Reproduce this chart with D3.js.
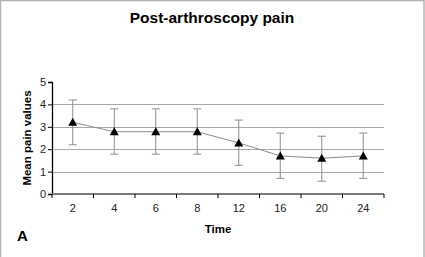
<!DOCTYPE html>
<html>
<head>
<meta charset="utf-8">
<script src="https://cdn.jsdelivr.net/npm/d3@7"></script>
<style>
  body { margin: 0; background: #fff; }
  text { font-family: Arial, "Liberation Sans", sans-serif; }
</style>
</head>
<body>
<script>
var times = ["2", "4", "6", "8", "12", "16", "20", "24"];
var meanPain = [3.2, 2.78, 2.78, 2.78, 2.28, 1.7, 1.6, 1.7];
var upperBar = [4.2, 3.8, 3.8, 3.8, 3.3, 2.72, 2.58, 2.72];
var lowerBar = [2.2, 1.78, 1.78, 1.78, 1.28, 0.7, 0.57, 0.7];
var yTicks = [0, 1, 2, 3, 4, 5];

var width = 425, height = 257;
var margin = { top: 82, right: 41, bottom: 63, left: 52 };

var data = times.map(function (t, i) {
    return { time: t, mean: meanPain[i], hi: upperBar[i], lo: lowerBar[i] };
});

var svg = d3.select("body")
    .append("svg")
    .attr("width", width)
    .attr("height", height);

// frame
svg.append("rect")
    .attr("x", 0.5).attr("y", 0.5)
    .attr("width", width - 1.5).attr("height", height + 2)
    .attr("fill", "none")
    .attr("stroke", "#b4b4b4")
    .attr("stroke-width", 1.5);

var g = svg.append("g")
    .attr("transform", "translate(" + margin.left + "," + margin.top + ")");

var w = width - margin.left - margin.right;
var h = height - margin.top - margin.bottom;

var x = d3.scaleBand()
    .domain(times)
    .range([0, w]);

var y = d3.scaleLinear()
    .domain([0, 5])
    .range([h, 0]);

// gridlines
g.selectAll(".grid")
    .data(yTicks.filter(function (d) { return d > 0 && d < 5; }))
    .enter()
    .append("line")
    .attr("x1", 0).attr("x2", w)
    .attr("y1", function (d) { return Math.round(y(d)) + 0.5; })
    .attr("y2", function (d) { return Math.round(y(d)) + 0.5; })
    .attr("stroke", "#a8a8a8")
    .attr("stroke-width", 1);

// y axis
var yAxis = g.append("g")
    .call(d3.axisLeft(y).tickValues(yTicks).tickSize(4).tickFormat(d3.format("d")));
yAxis.select(".domain").attr("stroke", "#000").attr("stroke-width", 1.3);
yAxis.selectAll(".tick line").attr("stroke", "#000");
yAxis.selectAll("text").attr("font-size", 11).attr("fill", "#222").attr("x", -6);

// x axis
var xTickPos = times.map(function (t) { return x(t); }).concat([w]);
var xAxis = g.append("g")
    .attr("transform", "translate(0," + h + ")")
    .call(d3.axisBottom(x).tickSize(0).tickPadding(10));
xAxis.select(".domain").remove();
xAxis.selectAll("text").attr("font-size", 11).attr("fill", "#222");

g.append("line")
    .attr("x1", 0).attr("x2", w)
    .attr("y1", h).attr("y2", h)
    .attr("stroke", "#7a7a7a")
    .attr("stroke-width", 2);

g.selectAll(".xtick")
    .data(xTickPos)
    .enter()
    .append("line")
    .attr("x1", function (d) { return d; })
    .attr("x2", function (d) { return d; })
    .attr("y1", h).attr("y2", h + 4)
    .attr("stroke", "#000");

var cx = function (d) { return x(d.time) + x.bandwidth() / 2; };

// error bars
var eb = g.selectAll(".err")
    .data(data)
    .enter()
    .append("g")
    .attr("stroke", "#8c8c8c")
    .attr("stroke-width", 1);
eb.append("line")
    .attr("x1", cx).attr("x2", cx)
    .attr("y1", function (d) { return y(d.hi); })
    .attr("y2", function (d) { return y(d.lo); });
eb.append("line")
    .attr("x1", function (d) { return cx(d) - 4; })
    .attr("x2", function (d) { return cx(d) + 4; })
    .attr("y1", function (d) { return y(d.hi); })
    .attr("y2", function (d) { return y(d.hi); });
eb.append("line")
    .attr("x1", function (d) { return cx(d) - 4; })
    .attr("x2", function (d) { return cx(d) + 4; })
    .attr("y1", function (d) { return y(d.lo); })
    .attr("y2", function (d) { return y(d.lo); });

// line
g.append("path")
    .datum(data)
    .attr("fill", "none")
    .attr("stroke", "#8c8c8c")
    .attr("stroke-width", 1)
    .attr("d", d3.line().x(cx).y(function (d) { return y(d.mean); }));

// markers
g.selectAll(".pt")
    .data(data)
    .enter()
    .append("path")
    .attr("transform", function (d) { return "translate(" + cx(d) + "," + y(d.mean) + ")"; })
    .attr("d", "M0,-4.5L4.5,3.5L-4.5,3.5Z")
    .attr("fill", "#000");

// titles
svg.append("text")
    .attr("x", 212).attr("y", 23)
    .attr("text-anchor", "middle")
    .attr("font-size", 15.5).attr("font-weight", "bold")
    .text("Post-arthroscopy pain");

svg.append("text")
    .attr("transform", "translate(31," + (margin.top + h / 2) + ") rotate(-90)")
    .attr("text-anchor", "middle")
    .attr("font-size", 11.5).attr("font-weight", "bold")
    .text("Mean pain values");

svg.append("text")
    .attr("x", 218).attr("y", 233)
    .attr("text-anchor", "middle")
    .attr("font-size", 11.5).attr("font-weight", "bold")
    .text("Time");

svg.append("text")
    .attr("x", 17).attr("y", 241)
    .attr("font-size", 15).attr("font-weight", "bold")
    .text("A");
</script>
</body>
</html>
